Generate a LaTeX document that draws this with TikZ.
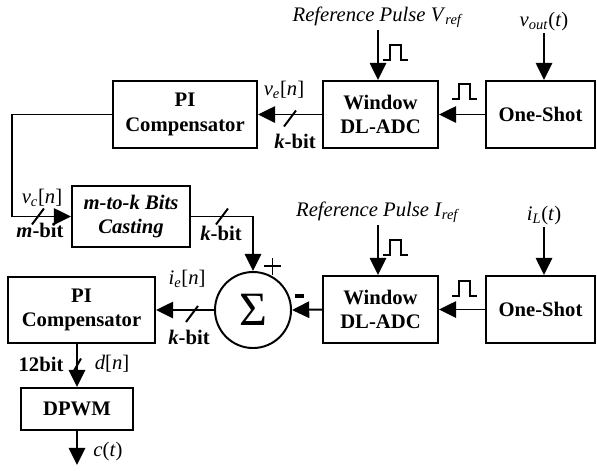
\documentclass[tikz,border=0pt]{standalone}
\usepackage{fontspec}
\setmainfont{Liberation Serif}
\usepackage{tikz}
\usetikzlibrary{arrows.meta, positioning, calc}

% signal names with italic subscripts
\newcommand{\sig}[2]{\textit{#1}\textsubscript{\textit{#2}}}
% small square pulse, given its lower left end
\newcommand{\pulse}[1]{\draw[line width=0.8pt] (#1) -- ++(7,0) -- ++(0,-15) -- ++(11,0) -- ++(0,15) -- ++(7,0);}
% bus width mark across a line
\newcommand{\busmark}[1]{\draw (#1) +(-6,8) -- +(6,-8);}

\begin{document}
\begin{tikzpicture}[x=0.025cm, y=-0.025cm, line width=1.4pt,
  font=\fontsize{14.7}{17.5}\selectfont,
  block/.style={draw, align=center, inner sep=0pt, font=\fontsize{14.7}{17.5}\selectfont\bfseries},
  arr/.style={-{Triangle[length=4.3mm,width=4.1mm]}},
  lbl/.style={inner sep=1pt}]
  \useasboundingbox (0,0) rectangle (597,470);

  % Voltage loop
  \node[block, minimum width=3.6cm, minimum height=1.675cm] (pitop) at (185,114.5) {PI\\Compensator};
  \node[block, minimum width=2.875cm, minimum height=1.675cm] (adctop) at (380.5,114.5) {Window\\DL-ADC};
  \node[block, minimum width=2.725cm, minimum height=1.675cm] (shottop) at (540.5,114.5) {One-Shot};

  \node[lbl, anchor=south] (vref) at (378,30) {\textit{Reference Pulse} \sig{V}{ref}};
  \node[lbl, anchor=south] (vout) at (544,33) {\sig{v}{out}(\textit{t})};
  \draw[arr] (vref.south) -- (vref.south |- adctop.north);
  \draw[arr] (vout.south) -- (vout.south |- shottop.north);
  \pulse{383,60}

  \draw[arr] (shottop.west) -- (adctop.east);
  \pulse{452,99}

  \draw[arr] (adctop.west) -- coordinate (sv) (pitop.east);
  \busmark{$(sv)+(0,4)$}
  \node[lbl] (ve) at (284,90) {\sig{v}{e}[\textit{n}]};
  \node[lbl] (kv) at (295,141) {\textbf{\textit{k}-bit}};

  % Bit casting between the loops
  \node[block, font=\fontsize{14.7}{17.5}\selectfont\bfseries\itshape, minimum width=2.95cm, minimum height=1.525cm] (cast) at (131,216.5) {m-to-k Bits\\Casting};
  \node[draw, circle, minimum size=1.9cm, inner sep=0pt] (sum) at (253,310) {\fontsize{34}{36}\selectfont Σ};

  \coordinate (fb) at (12,0);
  \draw[arr] (pitop.west) -- (pitop.west -| fb) |- coordinate[pos=0.72] (sc) (cast.west);
  \busmark{sc}
  \node[lbl] (vc) at (42,198) {\sig{v}{c}[\textit{n}]};
  \node[lbl] (mb) at (40,230) {\textbf{\textit{m}-bit}};

  \draw[arr] (cast.east) -| coordinate[pos=0.25] (sk) (sum.north);
  \busmark{sk}
  \node[lbl] (kc) at (221,233) {\textbf{\textit{k}-bit}};

  % signs of the summing point
  \draw[line width=0.8pt] (264,266) -- (281,266) (272.5,258) -- (272.5,275);
  \draw[line width=2.4pt] (295,296) -- (304,296);

  % Current loop
  \node[block, minimum width=2.875cm, minimum height=1.675cm] (adcbot) at (380.5,309.5) {Window\\DL-ADC};
  \node[block, minimum width=2.725cm, minimum height=1.675cm] (shotbot) at (540.5,309.5) {One-Shot};
  \node[block, minimum width=3.675cm, minimum height=1.65cm] (pibot) at (81.5,310) {PI\\Compensator};
  \node[block, minimum width=2.8cm, minimum height=1.05cm] (dpwm) at (77,409) {DPWM};

  \node[lbl, anchor=south] (iref) at (378,225) {\textit{Reference Pulse} \sig{I}{ref}};
  \node[lbl, anchor=south] (il) at (544,227) {\sig{i}{L}(\textit{t})};
  \draw[arr] (iref.south) -- (iref.south |- adcbot.north);
  \draw[arr] (il.south) -- (il.south |- shotbot.north);
  \pulse{383,255}

  \draw[arr] (shotbot.west) -- (adcbot.east);
  \pulse{452,296}
  \draw[arr] (adcbot.west) -- (sum.east);

  \draw[arr] (sum.west) -- coordinate[pos=0.38] (si) (pibot.east);
  \busmark{$(si)+(0,4)$}
  \node[lbl] (ie) at (187,279) {\sig{i}{e}[\textit{n}]};
  \node[lbl] (ki) at (189,337) {\textbf{\textit{k}-bit}};

  \draw[arr] (dpwm.north |- pibot.south) -- coordinate (sd) (dpwm.north);
  \draw (sd) +(-4,7) -- +(4,-7);
  \node[lbl] (nb) at (41,364) {\textbf{12bit}};
  \node[lbl] (dn) at (112,364) {\textit{d}[\textit{n}]};

  \coordinate (out) at (77,465);
  \draw[arr] (dpwm.south) -- (out);
  \node[lbl] (ct) at (108,452) {\textit{c}(\textit{t})};
\end{tikzpicture}
\end{document}
